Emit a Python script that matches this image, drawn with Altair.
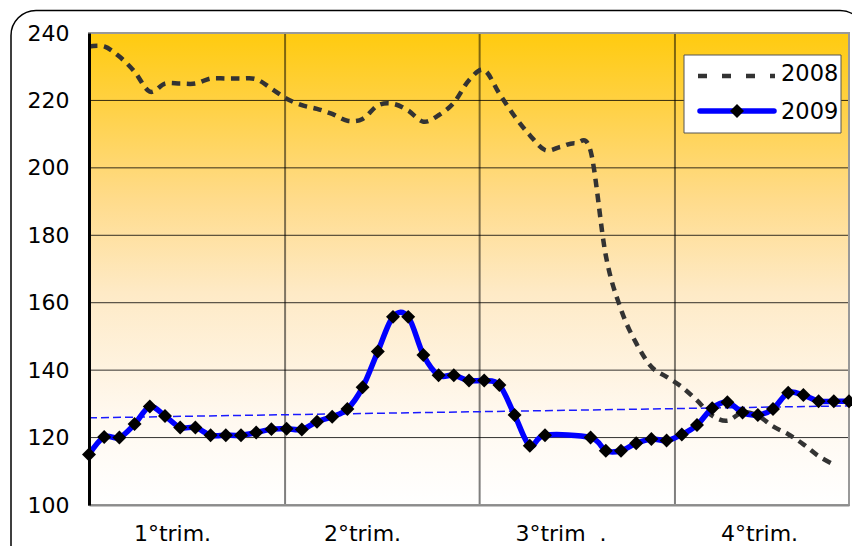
import altair as alt
import pandas as pd

# ---------------- data ----------------
weeks = list(range(51))
series_names = ["2008", "2009"]
values_2008 = [236, 236, 233, 228.5, 222.6, 225, 225, 225, 226.5, 226.5,
               226.5, 226.3, 223.5, 220.5, 218.6, 217.5, 216, 214, 214.5, 218.5,
               219, 217, 213.7, 215.6, 219.3, 226, 229, 222, 215.3, 209.7,
               205.3, 206.2, 207.3, 205, 174, 158, 148, 141, 138, 135,
               131, 126.5, 125, 127.5, 126.5, 123.3, 121, 118, 114.5, 112, None]
values_2009 = [115, 120.2, 120, 124, 129.2, 126.4, 123, 123, 120.7, 120.7,
               120.7, 121.5, 122.5, 122.6, 122.4, 124.7, 126.2, 128.5, 134.9, 145.5,
               155.8, 155.8, 144.5, 138.5, 138.5, 136.9, 136.9, 135.6, 126.7, 117.6,
               120.7, None, None, 120, 116.1, 116.1, 118.3, 119.6, 119.1, 120.9,
               123.7, 128.7, 130.5, 127.4, 126.7, 128.5, 133.3, 132.6, 130.8, 130.8, 130.8]
y_ticks = [100, 120, 140, 160, 180, 200, 220, 240]
quarter_labels = ["1°trim.", "2°trim.", "3°trim\u00a0\u00a0.", "4°trim."]
quarter_label_pos = [5.46, 17.96, 31.02, 44.08]
quarter_bounds = [12.9, 25.7, 38.55]

# ---------------- layout ----------------
W, H = 760, 472
FONT = "DejaVu Sans"

df08 = pd.DataFrame({"week": weeks, "v": values_2008}).dropna()
df09 = pd.DataFrame({"week": weeks, "v": values_2009}).dropna()
df_box = pd.DataFrame({"week": [weeks[0]], "week2": [weeks[-1]],
                       "v": [y_ticks[0]], "v2": [y_ticks[-1]]})
df_hgrid = pd.DataFrame({"v": y_ticks[1:-1]})
df_vgrid = pd.DataFrame({"week": quarter_bounds})
one = pd.DataFrame({"a": [0]})

xs = alt.Scale(domain=[weeks[0], weeks[-1]], nice=False, zero=False, padding=0)
ys = alt.Scale(domain=[y_ticks[0], y_ticks[-1]], nice=False, zero=False)

parts = []
for i in range(len(quarter_labels) - 1):
    mid = (quarter_label_pos[i] + quarter_label_pos[i + 1]) / 2
    parts.append(f"datum.value < {mid} ? '{quarter_labels[i]}' : ")
label_expr = "".join(parts) + f"'{quarter_labels[-1]}'"

x_axis = alt.Axis(values=quarter_label_pos, labelExpr=label_expr, title=None,
                  grid=False, ticks=False, tickSize=0, labelFontSize=22,
                  labelFont=FONT, labelColor="black", labelPadding=18,
                  domainColor="#8c8c8c", domainWidth=2, labelFlush=False,
                  labelOverlap=False, zindex=1)
y_axis = alt.Axis(values=y_ticks, title=None, grid=False, ticks=False, tickSize=0,
                  labelFontSize=22, labelFont=FONT, labelColor="black",
                  labelPadding=20, domainColor="black", domainWidth=3,
                  labelOverlap=False, zindex=1, format="d")

X = alt.X("week:Q", scale=xs, axis=x_axis)
Y = alt.Y("v:Q", scale=ys, axis=y_axis)

gradient = alt.Gradient(
    gradient="linear", x1=0, x2=0, y1=0, y2=1,
    stops=[alt.GradientStop(color="#FFCB0F", offset=0),
           alt.GradientStop(color="#FFD143", offset=0.15),
           alt.GradientStop(color="#FFDB8A", offset=0.35),
           alt.GradientStop(color="#FEEAC6", offset=0.55),
           alt.GradientStop(color="#FFF8EE", offset=0.8),
           alt.GradientStop(color="#FFFFFF", offset=1)])

# outer frame (decoration; right and bottom edges fall outside the page)
shadow = alt.Chart(one).mark_rect(fill="black", cornerRadius=25).encode(
    x=alt.value(-75), x2=alt.value(779), y=alt.value(-19.5), y2=alt.value(560))
frame = alt.Chart(one).mark_rect(fill="white", stroke="black", strokeWidth=1.5,
                                 cornerRadius=25).encode(
    x=alt.value(-78), x2=alt.value(776), y=alt.value(-22.5), y2=alt.value(557))

bg = alt.Chart(df_box).mark_rect(color=gradient).encode(
    x=X, x2="week2:Q", y=Y, y2="v2:Q")

hgrid = alt.Chart(df_hgrid).mark_rule(color="black", opacity=0.8, strokeWidth=1).encode(y=Y)
vgrid = alt.Chart(df_vgrid).mark_rule(color="black", opacity=0.5, strokeWidth=2).encode(x=X)

border = alt.Chart(df_box).mark_rect(fillOpacity=0, stroke="#999999", strokeWidth=2).encode(
    x=X, x2="week2:Q", y=Y, y2="v2:Q")

line08 = alt.Chart(df08).mark_line(color="#333333", strokeWidth=4.5,
                                   strokeDash=[8.5, 6.5], interpolate="cardinal").encode(
    x=X, y=Y)

trend = alt.Chart(df09).transform_regression(
    "week", "v", extent=[weeks[0], weeks[-1]]).mark_line(
    color="#1a1aff", strokeWidth=1.5, strokeDash=[8, 4]).encode(x=X, y=Y)

line09 = alt.Chart(df09).mark_line(color="#0000FF", strokeWidth=5.5,
                                   interpolate="cardinal", strokeJoin="round",
                                   strokeCap="round").encode(x=X, y=Y)

pts09 = alt.Chart(df09).mark_point(shape="diamond", filled=True, size=195,
                                   color="black", opacity=1).encode(x=X, y=Y)

# legend (decoration)
leg_box = alt.Chart(one).mark_rect(fill="white", stroke="#555555", strokeWidth=1).encode(
    x=alt.value(595), x2=alt.value(752), y=alt.value(22), y2=alt.value(100))
leg_08 = alt.Chart(one).mark_rule(color="#333333", strokeWidth=4.5,
                                  strokeDash=[9, 15]).encode(
    x=alt.value(609), x2=alt.value(686), y=alt.value(43))
leg_09 = alt.Chart(one).mark_rule(color="#0000FF", strokeWidth=5.5,
                                  strokeCap="round").encode(
    x=alt.value(611), x2=alt.value(685), y=alt.value(78))
leg_09p = alt.Chart(one).mark_point(shape="diamond", filled=True, size=195,
                                    color="black", opacity=1).encode(
    x=alt.value(648), y=alt.value(78))
leg_t08 = alt.Chart(one).mark_text(font=FONT, fontSize=22.5, align="left",
                                   baseline="alphabetic", color="black").encode(
    x=alt.value(692), y=alt.value(48), text=alt.value(series_names[0]))
leg_t09 = alt.Chart(one).mark_text(font=FONT, fontSize=22.5, align="left",
                                   baseline="alphabetic", color="black").encode(
    x=alt.value(692), y=alt.value(86), text=alt.value(series_names[1]))

chart = alt.layer(
    shadow, frame, bg, hgrid, vgrid, border, line08, trend, line09, pts09,
    leg_box, leg_08, leg_09, leg_09p, leg_t08, leg_t09
).properties(
    width=W, height=H,
    padding={"left": 81, "top": 25, "right": 3, "bottom": 41},
    autosize=alt.AutoSizeParams(type="none"),
    background="white",
).configure_view(stroke=None)

chart.save("out.html", embed_options={"renderer": "svg", "actions": False})
